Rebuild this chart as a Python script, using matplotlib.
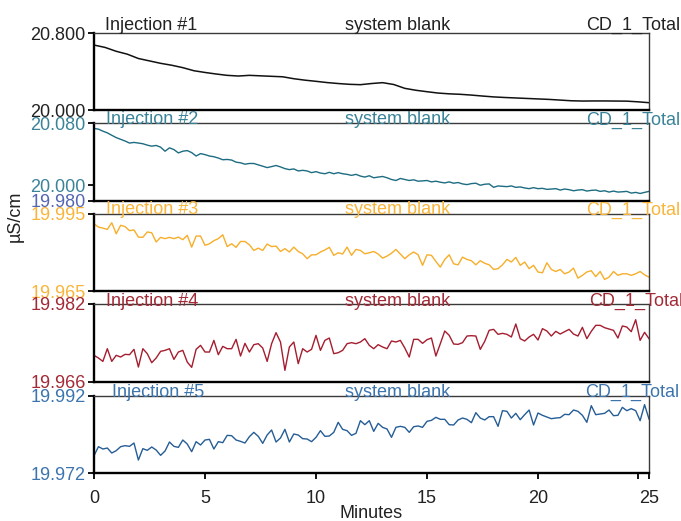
import numpy as np
import matplotlib
matplotlib.use("Agg")
import matplotlib.pyplot as plt

plt.rcParams['font.family'] = ['Liberation Sans', 'DejaVu Sans']

# ---------------- data ----------------
injections = ['Injection #1', 'Injection #2', 'Injection #3', 'Injection #4', 'Injection #5']
sample_name = 'system blank'
channel_name = 'CD_1_Total'

time_coarse = np.round(np.arange(0, 25.0001, 0.5), 1)   # minutes (injection 1)
time_fine = np.round(np.arange(0, 25.0001, 0.2), 1)     # minutes (injections 2-5)

cd_inj1 = [20.675, 20.650, 20.610, 20.580, 20.535, 20.510, 20.485, 20.465, 20.440, 20.408,
           20.390, 20.374, 20.360, 20.353, 20.360, 20.355, 20.350, 20.345, 20.325, 20.310,
           20.298, 20.285, 20.275, 20.267, 20.263, 20.275, 20.284, 20.265, 20.225, 20.205,
           20.190, 20.176, 20.168, 20.163, 20.155, 20.145, 20.136, 20.130, 20.125, 20.120,
           20.115, 20.110, 20.103, 20.096, 20.093, 20.094, 20.094, 20.093, 20.092, 20.085,
           20.076]

cd_inj2 = [20.0730, 20.0721, 20.0695, 20.0673, 20.0642, 20.0612, 20.0590, 20.0568, 20.0542, 20.0550,
           20.0542, 20.0533, 20.0515, 20.0502, 20.0511, 20.0489, 20.0437, 20.0480, 20.0458, 20.0415,
           20.0437, 20.0445, 20.0419, 20.0375, 20.0406, 20.0393, 20.0375, 20.0366, 20.0349, 20.0327,
           20.0331, 20.0323, 20.0296, 20.0288, 20.0270, 20.0279, 20.0279, 20.0261, 20.0244, 20.0226,
           20.0239, 20.0253, 20.0235, 20.0213, 20.0200, 20.0209, 20.0183, 20.0191, 20.0183, 20.0161,
           20.0174, 20.0156, 20.0147, 20.0165, 20.0147, 20.0161, 20.0147, 20.0139, 20.0126, 20.0139,
           20.0117, 20.0104, 20.0121, 20.0095, 20.0104, 20.0112, 20.0095, 20.0073, 20.0060, 20.0086,
           20.0073, 20.0060, 20.0069, 20.0051, 20.0055, 20.0060, 20.0042, 20.0051, 20.0038, 20.0029,
           20.0042, 20.0025, 20.0034, 20.0016, 20.0007, 20.0020, 20.0025, 19.9999, 20.0012, 20.0016,
           19.9972, 19.9990, 19.9985, 19.9981, 19.9990, 19.9972, 19.9977, 19.9964, 19.9955, 19.9968,
           19.9955, 19.9959, 19.9946, 19.9950, 19.9955, 19.9937, 19.9950, 19.9942, 19.9928, 19.9937,
           19.9942, 19.9924, 19.9933, 19.9937, 19.9920, 19.9928, 19.9911, 19.9924, 19.9911, 19.9915,
           19.9920, 19.9898, 19.9907, 19.9893, 19.9907, 19.9920]

cd_inj3 = [19.9912, 19.9899, 19.9895, 19.9890, 19.9916, 19.9873, 19.9906, 19.9901, 19.9885, 19.9888,
           19.9860, 19.9859, 19.9880, 19.9877, 19.9841, 19.9859, 19.9854, 19.9859, 19.9854, 19.9860,
           19.9850, 19.9867, 19.9821, 19.9864, 19.9864, 19.9828, 19.9834, 19.9846, 19.9854, 19.9869,
           19.9823, 19.9834, 19.9820, 19.9843, 19.9843, 19.9830, 19.9808, 19.9817, 19.9808, 19.9833,
           19.9823, 19.9825, 19.9804, 19.9815, 19.9802, 19.9821, 19.9804, 19.9795, 19.9776, 19.9791,
           19.9791, 19.9802, 19.9810, 19.9820, 19.9789, 19.9799, 19.9794, 19.9821, 19.9789, 19.9812,
           19.9808, 19.9795, 19.9799, 19.9804, 19.9794, 19.9778, 19.9786, 19.9797, 19.9812, 19.9794,
           19.9776, 19.9791, 19.9802, 19.9791, 19.9750, 19.9791, 19.9789, 19.9765, 19.9743, 19.9773,
           19.9791, 19.9756, 19.9752, 19.9782, 19.9773, 19.9768, 19.9752, 19.9768, 19.9758, 19.9752,
           19.9734, 19.9737, 19.9752, 19.9773, 19.9763, 19.9781, 19.9750, 19.9763, 19.9737, 19.9750,
           19.9724, 19.9721, 19.9760, 19.9734, 19.9726, 19.9734, 19.9717, 19.9724, 19.9739, 19.9700,
           19.9711, 19.9724, 19.9729, 19.9706, 19.9726, 19.9695, 19.9704, 19.9726, 19.9711, 19.9717,
           19.9717, 19.9711, 19.9717, 19.9726, 19.9713, 19.9704]

cd_inj4 = [19.97147, 19.97092, 19.97023, 19.97283, 19.97023, 19.97147, 19.97112, 19.97167, 19.97160, 19.97270,
           19.96907, 19.97283, 19.97181, 19.96996, 19.97092, 19.97229, 19.97249, 19.97283, 19.97064, 19.97215,
           19.97249, 19.97010, 19.96900, 19.97270, 19.97352, 19.97215, 19.97215, 19.97454, 19.97160, 19.97331,
           19.97283, 19.97283, 19.97475, 19.97133, 19.97393, 19.97215, 19.97366, 19.97386, 19.97297, 19.97023,
           19.97386, 19.97612, 19.97420, 19.96839, 19.97318, 19.97420, 19.96976, 19.97283, 19.97215, 19.97270,
           19.97557, 19.97249, 19.97454, 19.97502, 19.97181, 19.97201, 19.97249, 19.97386, 19.97407, 19.97386,
           19.97420, 19.97489, 19.97352, 19.97283, 19.97366, 19.97318, 19.97283, 19.97441, 19.97420, 19.97454,
           19.97297, 19.97112, 19.97475, 19.97475, 19.97393, 19.97468, 19.97502, 19.97133, 19.97386, 19.97646,
           19.97557, 19.97379, 19.97372, 19.97407, 19.97543, 19.97550, 19.97543, 19.97270, 19.97434, 19.97660,
           19.97680, 19.97578, 19.97598, 19.97578, 19.97523, 19.97790, 19.97489, 19.97441, 19.97523, 19.97578,
           19.97461, 19.97694, 19.97646, 19.97543, 19.97639, 19.97584, 19.97632, 19.97680, 19.97584, 19.97543,
           19.97721, 19.97489, 19.97639, 19.97762, 19.97762, 19.97714, 19.97687, 19.97660, 19.97502, 19.97749,
           19.97728, 19.97632, 19.97878, 19.97454, 19.97619, 19.97489]

cd_inj5 = [19.97650, 19.97884, 19.97823, 19.97849, 19.97719, 19.97780, 19.97884, 19.97910, 19.97892, 19.97979,
           19.97537, 19.97832, 19.97789, 19.97875, 19.97797, 19.97659, 19.97771, 19.98005, 19.97892, 19.97866,
           19.98057, 19.97953, 19.97754, 19.98014, 19.97927, 19.98057, 19.98074, 19.97823, 19.98014, 19.97988,
           19.98178, 19.98169, 19.98057, 19.98022, 19.97979, 19.98144, 19.98256, 19.98152, 19.97970, 19.98187,
           19.98317, 19.98005, 19.98109, 19.98334, 19.98005, 19.98213, 19.98187, 19.98092, 19.98083, 19.98014,
           19.98126, 19.98299, 19.98152, 19.98161, 19.98256, 19.98516, 19.98334, 19.98299, 19.98178, 19.98230,
           19.98559, 19.98455, 19.98559, 19.98282, 19.98490, 19.98386, 19.98343, 19.98126, 19.98386, 19.98412,
           19.98386, 19.98256, 19.98403, 19.98421, 19.98386, 19.98542, 19.98568, 19.98646, 19.98594, 19.98594,
           19.98455, 19.98447, 19.98577, 19.98628, 19.98594, 19.98507, 19.98767, 19.98628, 19.98577, 19.98663,
           19.98663, 19.98412, 19.98819, 19.98802, 19.98628, 19.98750, 19.98585, 19.98715, 19.98836, 19.98447,
           19.98758, 19.98698, 19.98654, 19.98611, 19.98628, 19.98637, 19.98724, 19.98715, 19.98836, 19.98802,
           19.98698, 19.98516, 19.98949, 19.98715, 19.98732, 19.98750, 19.98836, 19.98689, 19.98698, 19.98906,
           19.98819, 19.98871, 19.98819, 19.98559, 19.98975, 19.98602]

y_limits = [(20.000, 20.800), (19.980, 20.080), (19.965, 19.995), (19.966, 19.982), (19.972, 19.992)]
y_ticks = [[20.000, 20.800], [19.980, 20.000, 20.080], [19.965, 19.995], [19.966, 19.982], [19.972, 19.992]]
x_ticks = [0, 5, 10, 15, 20, 25]

# ---------------- style ----------------
line_colors = ['#111111', '#1d6c82', '#f7ae2a', '#a51d2f', '#255d96']
text_colors = ['#222222', '#3a8399', '#f9b53a', '#a32a36', '#3c75ad']
special_tick_color = '#5566b2'

W, H = 681, 521
fig = plt.figure(figsize=(W / 100, H / 100), dpi=100)
left_px, right_px = 94, 649
tops_px = [33, 123, 214, 304, 396]
bottoms_px = [110, 200.7, 291, 382, 473]
title_base_px = [29.5, 124.5, 214.5, 306, 397]
inj_left_px = [105, 106, 106, 106, 111.5]
right_label_px = [586, 586, 586, 589, 585.5]

series = [(time_coarse, cd_inj1), (time_fine, cd_inj2), (time_fine, cd_inj3),
          (time_fine, cd_inj4), (time_fine, cd_inj5)]

FS = 13
for i in range(5):
    ax = fig.add_axes([left_px / W, 1 - bottoms_px[i] / H,
                       (right_px - left_px) / W, (bottoms_px[i] - tops_px[i]) / H])
    t, v = series[i]
    ax.plot(t, v, color=line_colors[i], lw=1.0 if i else 1.1)
    ax.set_xlim(0, 25)
    ax.set_ylim(*y_limits[i])
    ax.set_yticks(y_ticks[i])
    ax.set_yticklabels(['%.3f' % y for y in y_ticks[i]])
    ax.tick_params(axis='y', direction='out', length=4, width=1.3, pad=2,
                   labelsize=FS, labelcolor=text_colors[i], color='black')
    if i == 1:
        ax.get_yticklabels()[0].set_color(special_tick_color)
    for s in ('left', 'bottom'):
        ax.spines[s].set_linewidth(1.7)
        ax.spines[s].set_color('black')
    for s in ('top', 'right'):
        ax.spines[s].set_linewidth(1.0)
        ax.spines[s].set_color('#3a3a3a')
    if i < 4:
        ax.set_xticks([])
    else:
        ax.set_xticks(x_ticks)
        ax.set_xticks([24.5], minor=True)
        ax.tick_params(axis='x', which='both', direction='out', length=4.5, width=1.3,
                       pad=8, labelsize=FS, labelcolor='#222222')
    yb = 1 - title_base_px[i] / H
    fig.text(inj_left_px[i] / W, yb, injections[i], color=text_colors[i],
             fontsize=FS, ha='left', va='baseline')
    fig.text(398 / W, yb, sample_name, color=text_colors[i],
             fontsize=FS, ha='center', va='baseline')
    fig.text(right_label_px[i] / W, yb, channel_name, color=text_colors[i],
             fontsize=FS, ha='left', va='baseline')

fig.text(15 / W, 1 - 216 / H, 'µS/cm', rotation=90, fontsize=FS,
         color='#222222', ha='center', va='center')
fig.text(371.5 / W, 1 - 514 / H, 'Minutes', fontsize=FS,
         color='#222222', ha='center', va='center')

fig.savefig('out.png', dpi=100)
